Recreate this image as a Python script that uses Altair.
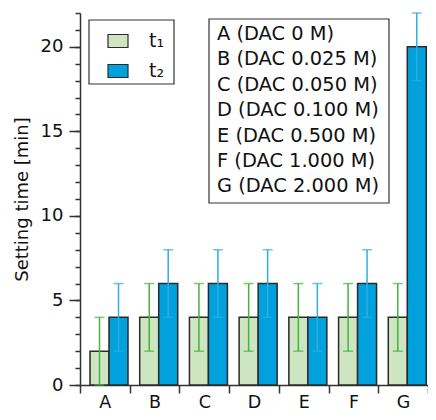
import altair as alt
import pandas as pd

categories = ["A", "B", "C", "D", "E", "F", "G"]
series_names = ["t₁", "t₂"]
t1_values = [2, 4, 4, 4, 4, 4, 4]
t2_values = [4, 6, 6, 6, 4, 6, 20]
t1_errors = [2, 2, 2, 2, 2, 2, 2]
t2_errors = [2, 2, 2, 2, 2, 2, 2]
major_ticks = [0, 5, 10, 15, 20]
minor_ticks = list(range(0, 23))
key_lines = [
    "A (DAC 0 M)",
    "B (DAC 0.025 M)",
    "C (DAC 0.050 M)",
    "D (DAC 0.100 M)",
    "E (DAC 0.500 M)",
    "F (DAC 1.000 M)",
    "G (DAC 2.000 M)",
]

fill_colors = ["#cde6c1", "#00a1dc"]
err_colors = ["#43b43c", "#2eaee3"]
FONT = "DejaVu Sans"
AX = "#333333"

rows = []
for s, vals, errs in [(series_names[0], t1_values, t1_errors), (series_names[1], t2_values, t2_errors)]:
    for c, v, e in zip(categories, vals, errs):
        rows.append({"cat": c, "series": s, "value": v, "lo": v - e, "hi": v + e})
df = pd.DataFrame(rows)

x_enc = alt.X(
    "cat:N",
    sort=categories,
    scale=alt.Scale(paddingInner=0, paddingOuter=0),
    axis=alt.Axis(
        title=None,
        tickBand="extent",
        tickSize=8,
        tickColor=AX,
        tickWidth=1.5,
        domainColor=AX,
        domainWidth=1.5,
        labelFontSize=17.5,
        labelColor="#111111",
        labelPadding=0,
        labelAngle=0,
    ),
)
xoff = alt.XOffset("series:N", sort=series_names, scale=alt.Scale(range=[10, 48]))
y_scale = alt.Scale(domain=[0, 22], nice=False)

bars = alt.Chart(df).mark_bar(stroke="#2a2a2a", strokeWidth=1.5).encode(
    x=x_enc,
    xOffset=xoff,
    y=alt.Y(
        "value:Q",
        scale=y_scale,
        axis=alt.Axis(
            title="Setting time [min]",
            titleFontSize=18,
            titleFontWeight="normal",
            titleColor="#111111",
            titlePadding=9,
            values=major_ticks,
            labelFontSize=18,
            labelColor="#111111",
            labelPadding=6,
            tickSize=11,
            tickColor=AX,
            tickWidth=1.5,
            domainColor=AX,
            domainWidth=1.5,
            grid=False,
            orient="left",
        ),
    ),
    color=alt.Color(
        "series:N",
        sort=series_names,
        scale=alt.Scale(domain=series_names, range=fill_colors),
        legend=alt.Legend(
            title=None,
            orient="none",
            legendX=9,
            legendY=7,
            padding=10,
            symbolType="M-1,-0.65H1V0.65H-1Z",
            symbolSize=400,
            symbolStrokeColor="#2a2a2a",
            symbolStrokeWidth=1.2,
            symbolOpacity=1,
            symbolOffset=8,
            labelFontSize=19,
            labelColor="#111111",
            labelOffset=20,
            rowPadding=9,
        ),
    ),
)

err_lines = alt.Chart(df).mark_rule(strokeWidth=1.5).encode(
    x=alt.X("cat:N", sort=categories),
    xOffset=xoff,
    y=alt.Y(
        "lo:Q",
        scale=y_scale,
        axis=alt.Axis(
            values=minor_ticks, labels=False, tickSize=5, tickColor=AX,
            tickWidth=1.5, domain=False, grid=False, title=None, orient="left",
        ),
    ),
    y2="hi:Q",
    stroke=alt.Stroke("series:N", sort=series_names,
                      scale=alt.Scale(domain=series_names, range=err_colors), legend=None),
)
err_color = alt.Color("series:N", sort=series_names,
                      scale=alt.Scale(domain=series_names, range=err_colors), legend=None)
cap_hi = alt.Chart(df).mark_tick(orient="horizontal", size=10, thickness=1.5).encode(
    x=alt.X("cat:N", sort=categories),
    xOffset=xoff,
    y=alt.Y("hi:Q", scale=y_scale, axis=None),
    color=err_color,
)
cap_lo = alt.Chart(df).mark_tick(orient="horizontal", size=10, thickness=1.5).encode(
    x=alt.X("cat:N", sort=categories),
    xOffset=xoff,
    y=alt.Y("lo:Q", scale=y_scale, axis=None),
    color=err_color,
)

box_df = pd.DataFrame({"k": [0]})
legend_box = alt.Chart(box_df).mark_rect(fill="white", stroke=AX, strokeWidth=1.2).encode(
    x=alt.value(9), x2=alt.value(94), y=alt.value(7), y2=alt.value(71)
)
key_box = alt.Chart(box_df).mark_rect(fill="white", stroke=AX, strokeWidth=1.2).encode(
    x=alt.value(129), x2=alt.value(309), y=alt.value(6), y2=alt.value(190)
)
key_text = alt.Chart(box_df).mark_text(
    text=key_lines, align="left", baseline="middle", fontSize=19.4,
    lineHeight=25.4, color="#111111", font=FONT
).encode(x=alt.value(137), y=alt.value(21))

chart = alt.layer(
    bars, err_lines, cap_hi, cap_lo, legend_box, key_box, key_text
).resolve_scale(color="independent").resolve_axis(y="independent").properties(
    width=348, height=372,
    autosize=alt.AutoSizeParams(type="none"),
    padding={"left": 72, "top": 5, "right": 0, "bottom": 27},
).configure(font=FONT).configure_view(stroke=None)

chart.save("out.html", embed_options={"renderer": "svg", "actions": False})
